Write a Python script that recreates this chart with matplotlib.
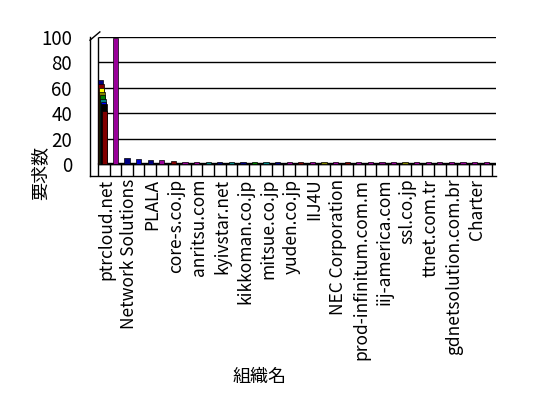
import matplotlib.pyplot as plt
import numpy as np

plt.rcParams['font.family'] = ['Noto Sans CJK JP', 'DejaVu Sans']

# 34 organisations, only every other one is labelled on the axis
labels = ['ptrcloud.net', 'Network Solutions', 'PLALA', 'core-s.co.jp', 'anritsu.com',
          'kyivstar.net', 'kikkoman.co.jp', 'mitsue.co.jp', 'yuden.co.jp', 'IIJ4U',
          'NEC Corporation', 'prod-infinitum.com.m', 'iij-america.com', 'ssl.co.jp',
          'ttnet.com.tr', 'gdnetsolution.com.br', 'Charter']
n_cat = 34

# first category: several series drawn one behind the other (back -> front)
first_vals = [66, 63, 60, 57, 54, 51, 49, 47, 42]
first_cols = ['#000080', '#800000', '#FFFF00', '#808000', '#008000', '#008080',
              '#0000FF', '#000000', '#800000']

# remaining categories: one visible value each
rest_vals = [99, 5, 4, 3, 3, 2.5, 2, 2, 1.5, 1.5, 1.5, 1.5, 1.5, 1.5, 1.5, 1.5, 1.5,
             1.5, 1.5, 1.5, 1.5, 1.5, 1.5, 1.5, 1.5, 1.5, 1.5, 1.5, 1.5, 1.5, 1.5,
             1.5, 1.5]
rest_cols = ['#990099', '#000080', '#0000CC', '#000080', '#990099', '#800000',
             '#990099', '#990099', '#008080', '#000080', '#008080', '#000080',
             '#008000', '#008080', '#000080', '#990099', '#800000', '#990099',
             '#808000', '#990099', '#800000', '#990099', '#990099', '#800080',
             '#990099', '#808000', '#990099', '#990099', '#800080', '#990099',
             '#990099', '#990099', '#990099']

fig = plt.figure(figsize=(5.48, 3.98), dpi=100)
ax = fig.add_axes([90 / 548, (398 - 176) / 398, (496 - 90) / 548, (176 - 37) / 398])

ymin = -9.4
ax.set_ylim(ymin, 100)
ax.set_xlim(-1.2, 33.85)

# back wall grid
for v in range(0, 101, 20):
    ax.hlines(v, -0.5, 33.85, color='black', linewidth=1, zorder=1)
ax.vlines(-0.5, 0, 100, color='black', linewidth=1, zorder=1)
ax.axhspan(0, 1.2, xmin=(-0.5 + 1.2) / 35.05, xmax=1, color='black', zorder=2)
# top-left corner of the box
ax.plot([-1.2, -0.35], [97.5, 104], color='black', linewidth=1, clip_on=False)

# floor cells under the categories
ax.vlines(np.arange(n_cat + 1) - 0.5, ymin, 0, color='black', linewidth=1, zorder=2)

off = np.linspace(-0.3, 0.05, len(first_vals))
for v, c, o in zip(first_vals, first_cols, off):
    ax.bar(o, v, width=0.45, color=c, edgecolor='black', linewidth=0.5, zorder=3)

xs = np.arange(1, n_cat)
ax.bar(xs, rest_vals, width=0.45, color=rest_cols, edgecolor='black',
       linewidth=0.5, zorder=3)

ax.set_yticks(range(0, 101, 20))
ax.tick_params(axis='y', length=0, pad=13, labelsize=13.5)
ax.set_xticks(np.arange(0, n_cat, 2) + 0.2)
ax.set_xticklabels(labels, rotation=90, fontsize=12.5)
ax.tick_params(axis='x', length=0, pad=2)

for s in ['top', 'right']:
    ax.spines[s].set_visible(False)
ax.spines['left'].set_linewidth(1)
ax.spines['bottom'].set_linewidth(1)

fig.text(40 / 548, 1 - 173 / 398, '要求数', rotation=90, ha='center', va='center', fontsize=13)
fig.text(260 / 548, 1 - 377 / 398, '組織名', ha='center', va='center', fontsize=13)

fig.savefig('out.png', dpi=100)
